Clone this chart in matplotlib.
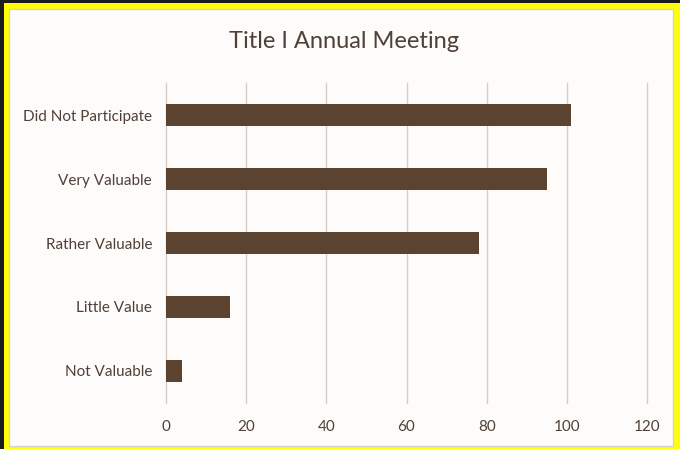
import matplotlib
matplotlib.use("Agg")
import matplotlib.pyplot as plt
from matplotlib.patches import Rectangle

categories = ["Not Valuable", "Little Value", "Rather Valuable", "Very Valuable", "Did Not Participate"]
counts = [4, 16, 78, 95, 101]
xticks = [0, 20, 40, 60, 80, 100, 120]

W, H = 680, 449
text_col = "#4f4038"
bar_col = "#5c4330"
grid_col = "#d6cdc6"

plt.rcParams['font.family'] = ['Lato', 'DejaVu Sans']

fig = plt.figure(figsize=(W / 100, H / 100), dpi=100)
fig.patch.set_facecolor("#1c1c1c")

def px_rect(x0, y0, x1, y1, **kw):
    # pixel box (top-left origin) -> figure coordinates
    r = Rectangle((x0 / W, 1 - y1 / H), (x1 - x0) / W, (y1 - y0) / H,
                  transform=fig.transFigure, **kw)
    fig.add_artist(r)
    r.set_zorder(-10)
    return r

px_rect(4, 3, 680, 452, facecolor="#ffff00", edgecolor="none")
px_rect(9, 9, 673, 446, facecolor="#fefcfa", edgecolor="#d8d2cc", linewidth=1)

ax = fig.add_axes([166 / W, 1 - 403 / H, (647 - 166) / W, (403 - 83) / H])
ax.set_facecolor("none")
ax.barh(range(len(categories)), counts, height=0.35, color=bar_col, zorder=3)
ax.set_xlim(0, 120)
ax.set_ylim(-0.5, len(categories) - 0.5)
ax.set_xticks(xticks)
ax.set_yticks(range(len(categories)))
ax.set_yticklabels(categories)
for xv in xticks:
    ax.axvline(xv, color=grid_col, linewidth=1, zorder=0, clip_on=False)
for s in ax.spines.values():
    s.set_visible(False)
ax.tick_params(length=0, colors=text_col, labelsize=11)
ax.tick_params(axis="x", pad=12)
ax.tick_params(axis="y", pad=10)

fig.text(344 / W, 1 - 42 / H, "Title I Annual Meeting", ha="center", va="center",
         fontsize=17, color=text_col)

fig.savefig("out.png", dpi=100, facecolor=fig.get_facecolor())
